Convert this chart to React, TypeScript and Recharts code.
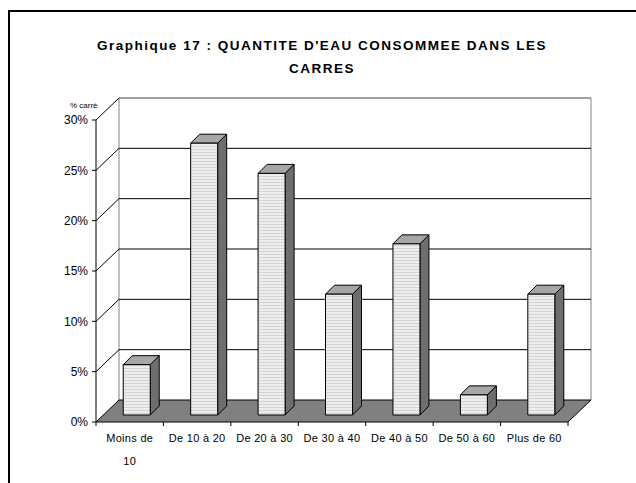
import { BarChart, Bar, XAxis, YAxis, CartesianGrid } from 'recharts';

const categories = ['Moins de 10', 'De 10 à 20', 'De 20 à 30', 'De 30 à 40', 'De 40 à 50', 'De 50 à 60', 'Plus de 60'];
const shares = [5, 27, 24, 12, 17, 2, 12];
const yTicks = [0, 5, 10, 15, 20, 25, 30];

const data = categories.map((name, i) => ({ name, share: shares[i] }));

const FONT = '"Liberation Sans", Arial, sans-serif';
// depth of the back wall and of the bars (pseudo 3D)
const DX = 23;
const DY = 22;
const BAR_SHIFT = 7;
const BAR_DEPTH = 9;
const BAND = 472 / categories.length;

const Bar3D = (props: any) => {
  const { x, y, width, height } = props;
  if (width == null || height == null) return null;
  const fx = x + BAR_SHIFT;
  const fy = y - BAR_SHIFT;
  const r = fx + width;
  const b = fy + height;
  const d = BAR_DEPTH;
  return (
    <g stroke="#000" strokeWidth={1} strokeLinejoin="round">
      <polygon points={`${r},${fy} ${r + d},${fy - d} ${r + d},${b - d} ${r},${b}`} fill="#6e6e6e" />
      <polygon points={`${fx},${fy} ${fx + d},${fy - d} ${r + d},${fy - d} ${r},${fy}`} fill="#a6a6a6" />
      <rect x={fx} y={fy} width={width} height={height} fill="url(#stripes)" />
    </g>
  );
};

const gridLine = (props: any) => {
  const { x1, x2, y1, index } = props;
  const top = props.y;
  const bottom = props.y + props.height;
  if (Math.abs(y1 - bottom) < 0.5) {
    return (
      <g key={`g-${index}`}>
        <line x1={x1 + DX} y1={top - DY} x2={x1 + DX} y2={bottom - DY} stroke="#808080" />
        <line x1={x2 + DX} y1={top - DY} x2={x2 + DX} y2={bottom - DY} stroke="#808080" />
        <polygon
          points={`${x1},${y1} ${x2},${y1} ${x2 + DX},${y1 - DY} ${x1 + DX},${y1 - DY}`}
          fill="#808080"
          stroke="#000"
        />
      </g>
    );
  }
  const isTop = Math.abs(y1 - top) < 0.5;
  return (
    <g key={`g-${index}`}>
      <line x1={x1} y1={y1} x2={x1 + DX} y2={y1 - DY} stroke="#000" />
      <line x1={x1 + DX} y1={y1 - DY} x2={x2 + DX} y2={y1 - DY} stroke={isTop ? '#808080' : '#000'} strokeWidth={isTop ? 1.5 : 1} />
    </g>
  );
};

const CategoryTick = (props: any) => {
  const { x, y, payload } = props;
  const last = payload.index === categories.length - 1;
  const label: string = payload.value;
  const cut = label.lastIndexOf(' ');
  const lines = label.length > 10 ? [label.slice(0, cut), label.slice(cut + 1)] : [label];
  return (
    <g>
      <line x1={x - BAND / 2} y1={y - 4} x2={x - BAND / 2} y2={y} stroke="#000" />
      {last && <line x1={x + BAND / 2} y1={y - 4} x2={x + BAND / 2} y2={y} stroke="#000" />}
      <text x={x} y={y + 16} textAnchor="middle" fontSize={11} fill="#000" style={{ fontFamily: FONT, letterSpacing: 0.3 }}>
        {lines.map((l, i) => (
          <tspan key={i} x={x} dy={i === 0 ? 0 : 23}>
            {l}
          </tspan>
        ))}
      </text>
    </g>
  );
};

export default function App() {
  return (
    <div style={{ position: 'absolute', left: 0, top: 0, width: 636, height: 483, background: '#fff', overflow: 'hidden', fontFamily: FONT }}>
      <div style={{ position: 'absolute', left: 8, top: 10, width: 700, height: 600, borderLeft: '2px solid #000', borderTop: '2px solid #000' }} />
      <div
        style={{
          position: 'absolute',
          left: 4,
          top: 34,
          width: 636,
          textAlign: 'center',
          fontSize: 13.5,
          fontWeight: 'bold',
          letterSpacing: 1.5,
          lineHeight: '23px',
          color: '#000',
        }}
      >
        Graphique 17 : QUANTITE D'EAU CONSOMMEE DANS LES
        <br />
        CARRES
      </div>
      <div style={{ position: 'absolute', left: 70, top: 101, fontSize: 8, color: '#000' }}>% carré</div>
      <div style={{ position: 'absolute', left: 0, top: 0 }}>
        <BarChart width={636} height={483} data={data} margin={{ top: 120, right: 68, bottom: 31, left: 36 }} barCategoryGap="30%">
          <defs>
            <pattern id="stripes" width={4} height={3} patternUnits="userSpaceOnUse">
              <rect x={0} y={0} width={4} height={3} fill="#ededed" />
              <rect x={0} y={2} width={4} height={1} fill="#d4d4d4" />
            </pattern>
          </defs>
          <CartesianGrid vertical={false} horizontal={gridLine} />
          <XAxis
            dataKey="name"
            height={30}
            axisLine={false}
            tickLine={false}
            tickSize={4}
            tickMargin={0}
            interval={0}
            tick={<CategoryTick />}
          />
          <YAxis
            width={60}
            domain={[0, 30]}
            ticks={yTicks}
            interval={0}
            tickFormatter={(v) => `${v}%`}
            axisLine={{ stroke: '#000' }}
            tickLine={{ stroke: '#000' }}
            tickSize={4}
            tickMargin={4}
            tick={{ fill: '#000', fontSize: 12, fontFamily: FONT }}
          />
          <Bar dataKey="share" shape={<Bar3D />} isAnimationActive={false} />
        </BarChart>
      </div>
    </div>
  );
}
